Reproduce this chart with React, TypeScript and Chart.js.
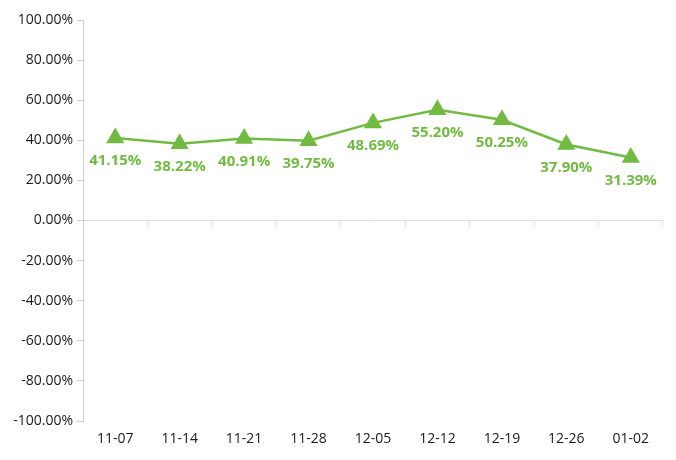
import React, { useEffect, useRef } from "react";
import { Chart, registerables } from "chart.js";

Chart.register(...registerables);

const categories = ["11-07", "11-14", "11-21", "11-28", "12-05", "12-12", "12-19", "12-26", "01-02"];
const values = [41.15, 38.22, 40.91, 39.75, 48.69, 55.2, 50.25, 37.9, 31.39];
const yMin = -100;
const yMax = 100;
const yStep = 20;

const GREEN = "#72bb42";
const AXIS = "#cfcfcf";
const FONT = "'Open Sans', 'Noto Sans', sans-serif";

const labelPlugin = {
  id: "pointLabels",
  afterDatasetsDraw(chart: any) {
    const ctx = chart.ctx;
    const meta = chart.getDatasetMeta(0);
    ctx.save();
    ctx.fillStyle = GREEN;
    ctx.font = `bold 15px ${FONT}`;
    ctx.textAlign = "center";
    ctx.textBaseline = "middle";
    meta.data.forEach((pt: any, i: number) => {
      ctx.fillText(values[i].toFixed(2) + "%", pt.x, pt.y + 23);
    });
    ctx.restore();
  },
};

export default function App() {
  const ref = useRef<HTMLCanvasElement>(null);
  useEffect(() => {
    document.body.style.margin = "0";
    const chart = new Chart(ref.current!, {
      type: "line",
      data: {
        labels: categories,
        datasets: [
          {
            data: values,
            borderColor: GREEN,
            backgroundColor: GREEN,
            borderWidth: 2.5,
            pointStyle: "triangle",
            pointRadius: 8,
            pointBackgroundColor: GREEN,
            pointBorderColor: GREEN,
            tension: 0,
            xAxisID: "x",
          },
        ],
      },
      options: {
        responsive: false,
        animation: false,
        maintainAspectRatio: false,
        layout: { padding: { top: 20, right: 13, left: 0, bottom: 0 } },
        plugins: { legend: { display: false }, tooltip: { enabled: false } },
        scales: {
          x: {
            type: "category",
            position: { y: 0 } as any,
            offset: true,
            ticks: { display: false },
            grid: { offset: true, drawOnChartArea: false, tickLength: 6, color: "#e0e0e0" },
            border: { display: true, color: "#e0e0e0", width: 1 },
          },
          x2: {
            type: "category",
            labels: categories,
            position: "bottom",
            offset: true,
            ticks: { color: "#1a1a1a", font: { family: FONT, size: 14 }, padding: 10, maxRotation: 0, autoSkip: false },
            grid: { display: false, drawTicks: false },
            border: { display: false },
            afterFit(scale: any) {
              scale.height = 39;
            },
          },
          y: {
            min: yMin,
            max: yMax,
            ticks: {
              stepSize: yStep,
              color: "#1a1a1a",
              font: { family: FONT, size: 14 },
              padding: 4,
              callback: (v: any) => Number(v).toFixed(2) + "%",
            },
            grid: { drawOnChartArea: false, tickLength: 6, color: AXIS },
            border: { display: true, color: AXIS },
            afterFit(scale: any) {
              scale.width = 83;
            },
          },
        },
      },
      plugins: [labelPlugin],
    });
    return () => chart.destroy();
  }, []);
  return (
    <div style={{ position: "fixed", left: 0, top: 0, width: 676, height: 460 }}>
      <canvas ref={ref} width={676} height={460} />
    </div>
  );
}
